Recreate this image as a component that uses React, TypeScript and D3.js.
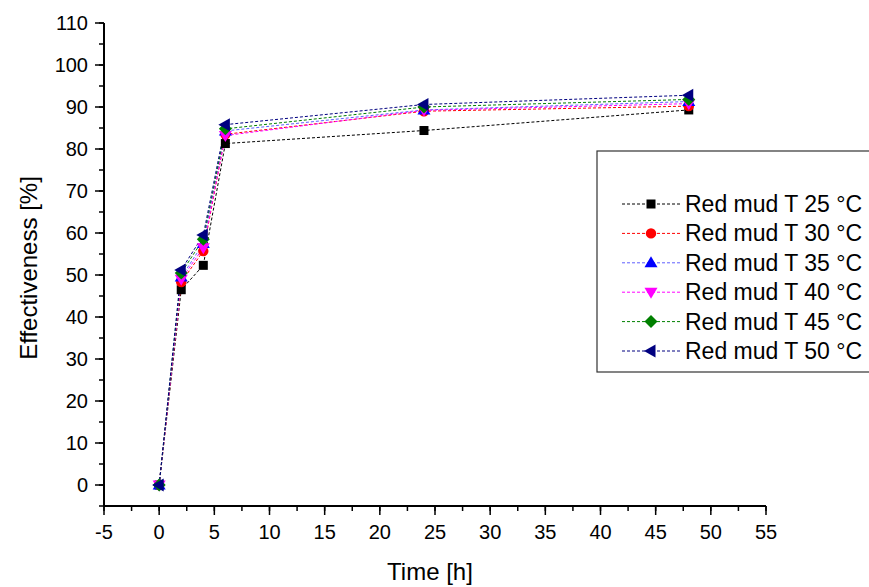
import React from "react";
import * as d3 from "d3";

const times = [0, 2, 4, 6, 24, 48];
const seriesNames = [
  "Red mud T 25 °C",
  "Red mud T 30 °C",
  "Red mud T 35 °C",
  "Red mud T 40 °C",
  "Red mud T 45 °C",
  "Red mud T 50 °C",
];
const t25 = [0, 46.5, 52.3, 81.3, 84.4, 89.3];
const t30 = [0, 48.3, 55.7, 83.5, 89.0, 90.2];
const t35 = [0, 49.5, 57.5, 84.3, 89.3, 91.3];
const t40 = [0, 49.0, 56.5, 83.2, 89.2, 90.8];
const t45 = [0, 50.5, 58.5, 84.8, 90.0, 91.8];
const t50 = [0, 51.2, 59.5, 85.8, 90.6, 92.8];
const seriesValues = [t25, t30, t35, t40, t45, t50];
const xTicks = [-5, 0, 5, 10, 15, 20, 25, 30, 35, 40, 45, 50, 55];
const yTicks = [0, 10, 20, 30, 40, 50, 60, 70, 80, 90, 100, 110];

const colors = ["#000000", "#ff0000", "#0000ff", "#ff00ff", "#008000", "#000080"];
const lineColors = ["#000000", "#ff0000", "#6060ff", "#ff00ff", "#008000", "#000080"];
const shapes = ["square", "circle", "up", "down", "diamond", "left"];

function Marker({ shape, x, y, color }: { shape: string; x: number; y: number; color: string }) {
  switch (shape) {
    case "square":
      return <rect x={x - 4.5} y={y - 4.5} width={9} height={9} fill={color} />;
    case "circle":
      return <circle cx={x} cy={y} r={5.2} fill={color} />;
    case "up":
      return <path d={`M${x},${y - 6.5} L${x + 6.5},${y + 4.5} L${x - 6.5},${y + 4.5}Z`} fill={color} />;
    case "down":
      return <path d={`M${x},${y + 6.5} L${x + 6.5},${y - 4.5} L${x - 6.5},${y - 4.5}Z`} fill={color} />;
    case "diamond":
      return <path d={`M${x},${y - 6.5} L${x + 6.5},${y} L${x},${y + 6.5} L${x - 6.5},${y}Z`} fill={color} />;
    case "left":
      return <path d={`M${x - 7},${y} L${x + 4.5},${y - 6.5} L${x + 4.5},${y + 6.5}Z`} fill={color} />;
    default:
      return null;
  }
}

export default function App() {
  const x = d3.scaleLinear().domain([-5, 55]).range([104, 766]);
  const y = d3.scaleLinear().domain([-5, 110]).range([506, 23]);
  const line = d3
    .line<number>()
    .x((_, i) => x(times[i]))
    .y((d) => y(d));
  const xMinor = d3.range(-5, 55.01, 2.5);
  const yMinor = d3.range(-5, 110.01, 5);
  const font = "Arial, 'Liberation Sans', sans-serif";
  const legendRowY = (i: number) => 204 + i * 29.4;

  return (
    <svg
      width={869}
      height={587}
      style={{ position: "absolute", left: 0, top: 0, background: "#fff" }}
      fontFamily={font}
    >
      <rect width={869} height={587} fill="#fff" />
      {xMinor.map((t) => (
        <line key={"xm" + t} x1={x(t)} x2={x(t)} y1={y(-5)} y2={y(-5) + 5} stroke="#000" strokeWidth={1.5} />
      ))}
      {xTicks.map((t) => (
        <line key={"xt" + t} x1={x(t)} x2={x(t)} y1={y(-5)} y2={y(-5) + 9} stroke="#000" strokeWidth={1.5} />
      ))}
      {yMinor.map((t) => (
        <line key={"ym" + t} x1={x(-5) - 5} x2={x(-5)} y1={y(t)} y2={y(t)} stroke="#000" strokeWidth={1.5} />
      ))}
      {yTicks.map((t) => (
        <line key={"yt" + t} x1={x(-5) - 9} x2={x(-5)} y1={y(t)} y2={y(t)} stroke="#000" strokeWidth={1.5} />
      ))}
      <line x1={x(-5)} x2={x(-5)} y1={y(-5)} y2={y(110)} stroke="#000" strokeWidth={2} />
      <line x1={x(-5)} x2={x(55)} y1={y(-5)} y2={y(-5)} stroke="#000" strokeWidth={2} />
      {xTicks.map((t) => (
        <text key={"xl" + t} x={x(t)} y={539} textAnchor="middle" fontSize={20} fill="#000">
          {t}
        </text>
      ))}
      {yTicks.map((t) => (
        <text key={"yl" + t} x={88} y={y(t) + 7} textAnchor="end" fontSize={20} fill="#000">
          {t}
        </text>
      ))}
      <text x={430} y={580} textAnchor="middle" fontSize={24} fill="#000">
        Time [h]
      </text>
      <text transform={`translate(37,268) rotate(-90)`} textAnchor="middle" fontSize={24} fill="#000">
        Effectiveness [%]
      </text>
      {seriesValues.map((vals, si) => (
        <path
          key={"s" + si}
          d={line(vals) || ""}
          fill="none"
          stroke={lineColors[si]}
          strokeWidth={1}
          strokeDasharray="3,2"
        />
      ))}
      {seriesValues.map((vals, si) => (
        <g key={"m" + si}>
          {vals.map((v, i) => (
            <Marker key={i} shape={shapes[si]} x={x(times[i])} y={y(v)} color={colors[si]} />
          ))}
        </g>
      ))}
      <rect x={597} y={151} width={290} height={221} fill="#fff" stroke="#333" strokeWidth={1.2} />
      {seriesNames.map((name, i) => (
        <g key={"lg" + i}>
          <line
            x1={622}
            x2={680}
            y1={legendRowY(i)}
            y2={legendRowY(i)}
            stroke={lineColors[i]}
            strokeWidth={1}
            strokeDasharray="3,2"
          />
          <Marker shape={shapes[i]} x={651} y={legendRowY(i)} color={colors[i]} />
          <text x={685} y={legendRowY(i) + 8} fontSize={23} fill="#000">
            {name}
          </text>
        </g>
      ))}
    </svg>
  );
}
